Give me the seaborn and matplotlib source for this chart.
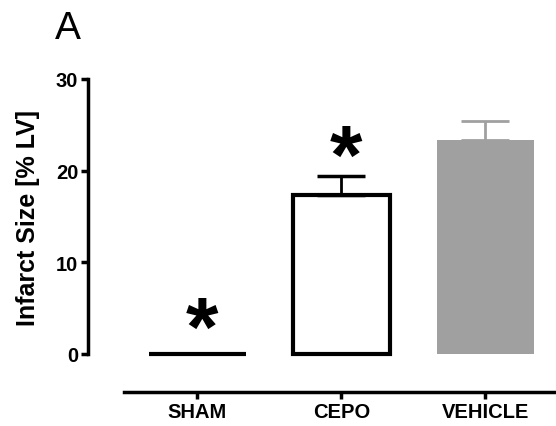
import matplotlib
matplotlib.use("Agg")
import matplotlib.pyplot as plt
import seaborn as sns
import pandas as pd

groups = ["SHAM", "CEPO", "VEHICLE"]
means = [0.0, 17.3, 23.3]
sem_upper = [0.0, 2.1, 2.1]
bar_colors = ["white", "white", "#a0a0a0"]
edge_colors = ["black", "black", "#a0a0a0"]
err_colors = ["black", "black", "#a0a0a0"]
star_groups = ["SHAM", "CEPO"]
star_levels = [4.6, 23.3]
yticks = [0, 10, 20, 30]

sns.set_style("white")
plt.rcParams["font.family"] = ["Liberation Sans", "DejaVu Sans"]
plt.rcParams["text.color"] = "black"

W, H = 556, 427
fig = plt.figure(figsize=(W / 100, H / 100), dpi=100)
ax = fig.add_axes([88 / W, 1 - 355 / H, (556 - 88) / W, (355 - 80) / H])

df = pd.DataFrame({"group": groups, "mean": means})
sns.barplot(data=df, x="group", y="mean", ax=ax, width=0.67,
            palette=bar_colors, hue="group", legend=False, errorbar=None)
for p, ec, g in zip(ax.patches, edge_colors, groups):
    p.set_edgecolor(ec)
    p.set_linewidth(3 if ec == "black" else 0)
    p.set_clip_on(False)

for i, (m, e, c) in enumerate(zip(means, sem_upper, err_colors)):
    if e > 0:
        ax.errorbar(i, m, yerr=[[0], [e]], fmt="none", ecolor=c,
                    elinewidth=2, capsize=17.5, capthick=2.5 if c == "black" else 2)

for g, lvl in zip(star_groups, star_levels):
    i = groups.index(g)
    ax.annotate("*", xy=(i + 0.03, lvl), xytext=(0, -43), textcoords="offset points",
                ha="center", va="bottom", fontsize=60, fontweight="bold",
                color="black", annotation_clip=False)

for s in ["top", "right"]:
    ax.spines[s].set_visible(False)
ax.spines["left"].set_linewidth(2.5)
ax.spines["bottom"].set_linewidth(2.5)
ax.spines["bottom"].set_position(("outward", 27.5))
ax.spines["left"].set_color("black")
ax.spines["bottom"].set_color("black")

ax.set_ylim(0, 30)
ax.set_xlim(-0.76, 2.49)
ax.spines["bottom"].set_bounds(-0.51, 2.49)
ax.set_yticks(yticks)
ax.set_xticks(range(len(groups)))
ax.set_xticklabels(groups, fontsize=14.5, fontweight="bold", color="black")
ax.set_yticklabels([str(t) for t in yticks], fontsize=14.5, fontweight="bold",
                   color="black")
ax.tick_params(axis="both", which="both", direction="out", length=5, width=2.5,
               colors="black", bottom=True, left=True, pad=2)
ax.set_xlabel("")
ax.set_ylabel("Infarct Size [% LV]", fontsize=18, fontweight="bold", color="black")
ax.yaxis.set_label_coords(-0.103, 0.5)

fig.text(68 / W, 1 - 29 / H, "A", fontsize=28, ha="center", va="center")

fig.savefig("out.png", dpi=100)
